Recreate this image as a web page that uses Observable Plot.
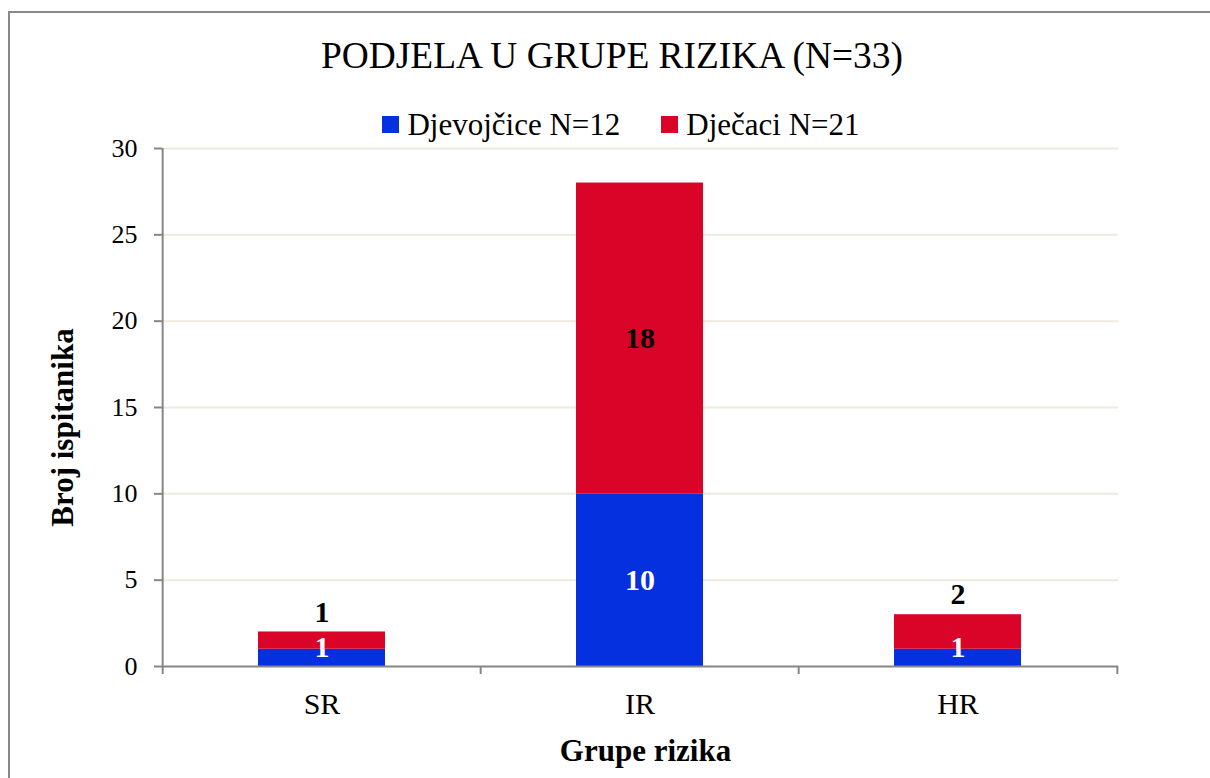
<!DOCTYPE html>
<html><head><meta charset="utf-8">
<script src="https://cdn.jsdelivr.net/npm/d3@7"></script>
<script src="https://cdn.jsdelivr.net/npm/@observablehq/plot@0.6"></script>
<style>
body{margin:0;width:1210px;height:778px;overflow:hidden;background:#fff;font-family:"Liberation Serif","Times New Roman",serif;position:relative;color:#000}
#frame{position:absolute;left:8px;top:11px;width:1300px;height:900px;border:2px solid #898989;box-sizing:border-box}
#title{position:absolute;left:0;top:37px;width:1224px;text-align:center;font-size:37.4px;line-height:37px;white-space:nowrap;font-family:"Liberation Serif",serif}
#legend{position:absolute;left:0;top:109px;width:1242px;display:flex;justify-content:center;font-size:31px;line-height:31px;white-space:nowrap;font-family:"Liberation Serif",serif}
.item{display:flex;align-items:center}
.item + .item{margin-left:41px}
.sw{width:17px;height:17px;margin-right:8px}
#chart{position:absolute;left:0;top:120px}
</style></head><body>
<div id="frame"></div>
<div id="title"></div>
<div id="legend"></div>
<div id="chart"></div>
<script>
const titleText = "PODJELA U GRUPE RIZIKA (N=33)";
const categories = ["SR", "IR", "HR"];
const seriesNames = ["Djevojčice N=12", "Dječaci N=21"];
const girls = [1, 10, 1];
const boys = [1, 18, 2];
const yTicks = [0, 5, 10, 15, 20, 25, 30];
const colors = ["#0530E0", "#DA0428"];
const xTitle = "Grupe rizika";
const yTitle = "Broj ispitanika";

document.getElementById("title").textContent = titleText;
const legend = document.getElementById("legend");
seriesNames.forEach((s, i) => {
  const it = document.createElement("div"); it.className = "item";
  const sw = document.createElement("div"); sw.className = "sw"; sw.style.background = colors[i];
  const tx = document.createElement("span"); tx.textContent = s;
  it.appendChild(sw); it.appendChild(tx); legend.appendChild(it);
});

const rows = categories.flatMap((c, i) => [
  {cat: c, series: seriesNames[0], value: girls[i], base: 0},
  {cat: c, series: seriesNames[1], value: boys[i], base: girls[i]}
]);

const W = 1210, H = 658, mL = 162, mR = 92, mT = 28, mB = 112;
const step = (W - mL - mR) / categories.length;
const tickLen = 8 * 30 / (H - mT - mB);
const axisColor = "#868686";
const isGirl = d => d.series === seriesNames[0];
const small = d => d.value < 3;

const plot = Plot.plot({
  width: W, height: H,
  marginLeft: mL, marginRight: mR, marginTop: mT, marginBottom: mB,
  style: {fontFamily: "'Liberation Serif','Times New Roman',serif", background: "transparent", color: "#000"},
  x: {domain: categories, paddingInner: 0.6, paddingOuter: 0.3},
  y: {domain: [0, 30]},
  color: {domain: seriesNames, range: colors},
  marks: [
    Plot.ruleY(yTicks.filter(v => v > 0), {stroke: "#EEEADF", strokeWidth: 2}),
    Plot.barY(rows, {x: "cat", y: "value", fill: "series"}),
    Plot.ruleY([0], {stroke: axisColor, strokeWidth: 2}),
    Plot.ruleX([categories[0]], {dx: -step / 2, y1: -tickLen, y2: 30, stroke: axisColor, strokeWidth: 2}),
    Plot.ruleX(categories.slice(1), {dx: -step / 2, y1: -tickLen, y2: 0, stroke: axisColor, strokeWidth: 2}),
    Plot.ruleX(categories.slice(-1), {dx: step / 2, y1: -tickLen, y2: 0, stroke: axisColor, strokeWidth: 2}),
    Plot.axisY({ticks: yTicks, tickSize: 8, tickPadding: 17, fontSize: 26, stroke: axisColor, strokeWidth: 2, fill: "#000", label: null}),
    Plot.axisX({tickSize: 0, tickPadding: 26, fontSize: 30, fill: "#000", label: null}),
    // labels
    Plot.text(rows, {filter: d => isGirl(d) && !small(d), x: "cat", y: d => d.base + d.value / 2, text: d => String(d.value), fill: "white", fontSize: 30, fontWeight: "bold"}),
    Plot.text(rows, {filter: d => isGirl(d) && small(d), x: "cat", y: d => d.base + d.value / 2, dy: -10, text: d => String(d.value), fill: "white", fontSize: 30, fontWeight: "bold"}),
    Plot.text(rows, {filter: d => !isGirl(d) && !small(d), x: "cat", y: d => d.base + d.value / 2, text: d => String(d.value), fill: "#000", fontSize: 30, fontWeight: "bold"}),
    Plot.text(rows, {filter: d => !isGirl(d) && small(d), x: "cat", y: d => d.base + d.value, dy: -20, text: d => String(d.value), fill: "#000", fontSize: 30, fontWeight: "bold"}),
    // axis titles
    Plot.text([xTitle], {frameAnchor: "bottom", lineAnchor: "bottom", textAnchor: "middle", dy: 94, dx: 5, fontSize: 31, fontWeight: "bold", fill: "#000"}),
    Plot.text([yTitle], {frameAnchor: "left", lineAnchor: "bottom", textAnchor: "middle", rotate: -90, dx: -90, dy: 20, fontSize: 31, fontWeight: "bold", fill: "#000"})
  ]
});
document.getElementById("chart").appendChild(plot);
</script>
</body></html>
